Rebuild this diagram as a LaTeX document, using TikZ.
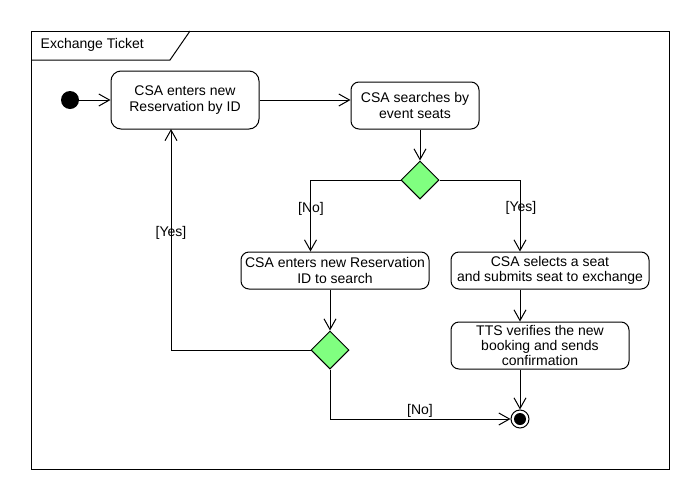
\documentclass[tikz,border=0pt]{standalone}
\usepackage{fontspec}
\setmainfont{Liberation Sans}
\usetikzlibrary{arrows.meta,shapes.geometric,calc}
\definecolor{DecisionGreen}{RGB}{128,255,128}

\begin{document}
\begin{tikzpicture}[x=0.75pt,y=-0.75pt,
 every node/.style={font=\fontsize{10.5}{11.6}\selectfont},
 action/.style={draw,rounded corners=6pt,align=center,inner sep=0pt,line width=0.75pt},
 decision/.style={draw,diamond,fill=DecisionGreen,minimum width=28.5pt,minimum height=28.5pt,inner sep=0pt,line width=0.75pt},
 flow/.style={line width=0.75pt,-{Straight Barb[length=8pt,width=9pt]}},
 frame/.style={line width=0.75pt}]
\fill[white] (0,0) rectangle (690,490);
\draw[frame] (31,31) rectangle (669,469);
\draw[frame] (31,60)--(170,60)--(190,31);
\node[anchor=base west] (title) at (36,48) {Exchange Ticket};

\node[circle,fill,minimum size=13.5pt,inner sep=0pt] (start) at (70,100) {};
\node[action,rounded corners=7.5pt,minimum width=111pt,minimum height=43.5pt] (n1) at (185,100) {CSA enters new\\Reservation by ID};
\node[action,minimum width=96pt,minimum height=35.25pt] (n2) at (415,105.5) {CSA searches by\\event seats};
\node[decision] (d1) at (420,180) {};
\node[action,minimum width=141pt,minimum height=27.75pt] (n3) at (335,270.5) {CSA enters new Reservation\\ID to search};
\node[action,minimum width=148.5pt,minimum height=27.75pt] (n4) at (550,270.5) {CSA selects a seat\\and submits seat to exchange};
\node[decision] (d2) at (330,350) {};
\node[action,minimum width=133.5pt,minimum height=35.25pt] (n5) at (540,345.5) {TTS verifies the new\\booking and sends\\confirmation};
\node[circle,draw,fill=white,line width=0.75pt,minimum size=13.5pt,inner sep=0pt] (fin) at (520,419) {};
\fill (fin) circle (6);
\coordinate (back) at (171,129);

\draw[flow] (start)--(n1);
\draw[flow] (n1.east)--(n1.east -| n2.west);
\draw[flow] (d1 |- n2.south)--(d1.north);
\draw[flow] (d1.west) -| (n3.north -| d2.west);
\draw[flow] (d1.east) -| (n4.north -| fin);
\draw[flow] (d2 |- n3.south)--(d2.north);
\draw[flow] (d2.west) -| (back);
\draw[flow] (d2.south) |- (fin.west);
\draw[flow] (fin |- n4.south)--(fin |- n5.north);
\draw[flow] (fin |- n5.south)--(fin.north);

\node (no1) at (311,209) {[No]};
\node (yes1) at (521,208) {[Yes]};
\node (yes2) at (171,233) {[Yes]};
\node (no2) at (420,411) {[No]};
\end{tikzpicture}
\end{document}
